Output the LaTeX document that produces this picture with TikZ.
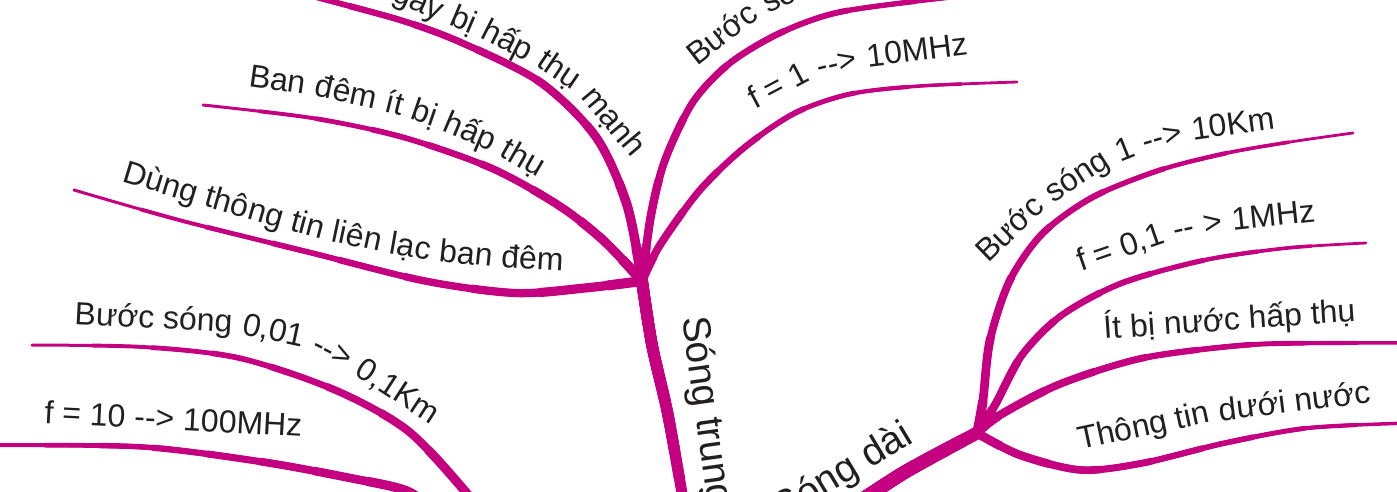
\documentclass[tikz,border=0pt]{standalone}
\usepackage{fontspec}
\setmainfont{Liberation Sans}[Ligatures=TeXOff]
\definecolor{br}{RGB}{197,0,128}
\definecolor{txt}{RGB}{35,31,32}
\newcommand\lbl{\fontsize{32}{38}\selectfont}
\newcommand\mlbl{\fontsize{39}{46}\selectfont}
\tikzset{
  brline/.style={draw=br,line cap=round,line join=round},
  lnode/.style={font=\lbl,text=txt,inner sep=0pt},
  wd/.style={lnode,anchor=base west},
  mainlab/.style={font=\mlbl,text=txt,inner sep=0pt},
}
% tapered branch: #1 width at start, #2 width at free end, #3 approx length, #4 path
\newcommand\brch[4]{%
  \draw[brline,line width=#2pt] #4;
  \foreach \k in {1,...,8}{%
    \pgfmathsetmacro\ww{#2+(#1-#2)*\k/8}%
    \pgfmathsetmacro\dl{#3*(1-\k/8.5)}%
    \draw[brline,line width=\ww pt,dash pattern=on \dl pt off 6000pt] #4;}}
% next word of a label: #1 name, #2 previous word, #3 angle, #4 text
\newcommand\nx[4]{\node[wd,rotate=#3] (#1) at ([shift={(#3:8.9pt)}]#2.base east) {#4};}
\begin{document}
\begin{tikzpicture}[x=1pt,y=-1pt]
\useasboundingbox (0,0) rectangle (1397,491);
\clip (0,0) rectangle (1397,491);
% hubs and free ends
\coordinate (hA) at (642,281);
\coordinate (hB) at (977,433);
\coordinate (tA) at (684,505);
\coordinate (e1) at (220,-30);
\coordinate (e2) at (203,105);
\coordinate (e3) at (74,190);
\coordinate (e4) at (1050,-12);
\coordinate (e5) at (1017,82);
\coordinate (s6) at (485,520);
\coordinate (e6) at (32,345);
\coordinate (s7) at (440,515);
\coordinate (e7) at (-10,445);
\coordinate (sB) at (850,508);
\coordinate (e8) at (1353,133);
\coordinate (e9) at (1366,243);
\coordinate (e10) at (1410,343);
\coordinate (e11) at (1410,423);
% branches
\brch{12}{11}{228}{plot[smooth] coordinates {(hA) (652,345) (668,415) (tA)}}
\brch{10}{5}{571}{plot[smooth] coordinates {(hA) (627,205) (596,137) (540,82) (460,42) (400,20) (312,-4) (e1)}}
\brch{10}{3}{487}{plot[smooth] coordinates {(hA) (603,240) (558,205) (491,168) (402,137) (312,118) (e2)}}
\brch{10}{3}{580}{plot[smooth] coordinates {(hA) (585,288) (515,293) (425,281) (312,253) (179,220) (e3)}}
\brch{9}{4}{575}{plot[smooth] coordinates {(hA) (651,215) (665,160) (693,102) (730,63) (780,33) (840,12) (945,-2) (e4)}}
\brch{8.5}{2.8}{455}{plot[smooth] coordinates {(hA) (660,245) (700,190) (745,147) (795,113) (850,94) (920,86) (e5)}}
\brch{10}{3}{511}{plot[smooth] coordinates {(s6) (464,490) (407,430) (335,390) (239,358) (143,347) (e6)}}
\brch{10}{4}{461}{plot[smooth] coordinates {(s7) (407,491) (350,478) (263,462) (143,447) (0,445) (e7)}}
\brch{14}{13}{148}{plot[smooth] coordinates {(sB) (905,472) (hB)}}
\brch{9.5}{2.8}{545}{plot[smooth] coordinates {(hB) (983,400) (990,340) (1010,280) (1043,233) (1093,197) (1160,170) (1227,153) (1290,142) (e8)}}
\brch{9}{2.8}{463}{plot[smooth] coordinates {(hB) (995,405) (1022,355) (1062,315) (1122,283) (1205,260) (1287,248) (e9)}}
\brch{9}{3.5}{452}{plot[smooth] coordinates {(hB) (1000,415) (1060,384) (1143,358) (1246,345) (1330,343) (e10)}}
\brch{9}{3.5}{443}{plot[smooth] coordinates {(hB) (1020,455) (1081,470) (1143,463) (1225,443) (1308,428) (e11)}}
% labels
\node[wd,rotate=-20] (t1a) at (317,-28) {Ban};
\node[wd,rotate=-24] (t1b) at (375,-7) {ngày};
\node[wd,rotate=-23] (t1c) at (448,24) {bị};
\node[wd,rotate=-27] (t1d) at (479,37) {hấp};
\node[wd,rotate=-34] (t1e) at (535,65) {thụ};
\node[wd,rotate=-50] (t1f) at (580,97) {mạnh};
\node[wd,rotate=-8] (t2a) at (248,86) {Ban};
\nx{t2b}{t2a}{-12}{đêm}
\nx{t2c}{t2b}{-14}{ít}
\nx{t2d}{t2c}{-19}{bị}
\nx{t2e}{t2d}{-23}{hấp}
\nx{t2f}{t2e}{-30}{thụ}
\node[wd,rotate=-17] (t3a) at (121,181) {Dùng};
\nx{t3b}{t3a}{-16}{thông}
\nx{t3c}{t3b}{-15}{tin}
\nx{t3d}{t3c}{-12}{liên}
\nx{t3e}{t3d}{-10}{lạc}
\nx{t3f}{t3e}{-6}{ban}
\nx{t3g}{t3f}{-3}{đêm}
\node[wd,rotate=38] (t4a) at (697,67) {Bước};
\nx{t4b}{t4a}{25}{sóng 0,1 --> 1Km}
\node[wd,rotate=28] (t5a) at (755,110) {f = 1};
\nx{t5b}{t5a}{14}{-->}
\nx{t5c}{t5b}{7}{10MHz}
\node[wd,rotate=-3] (t6a) at (74,324) {Bước sóng};
\nx{t6b}{t6a}{-12}{0,01}
\nx{t6c}{t6b}{-27}{-->}
\nx{t6d}{t6c}{-33}{0,1Km}
\node[wd,rotate=-3] (t7) at (44,423) {f = 10 --> 100MHz};
\node[wd,rotate=44] (t10a) at (988,264) {Bước};
\nx{t10b}{t10a}{33}{sóng}
\nx{t10c}{t10b}{22}{1}
\nx{t10d}{t10c}{16}{-->}
\nx{t10e}{t10d}{8}{10Km}
\node[wd,rotate=19] (t11a) at (1081,272) {f = 0,1};
\nx{t11b}{t11a}{12}{--}
\nx{t11c}{t11b}{10}{>}
\nx{t11d}{t11c}{6}{1MHz}
\node[wd,rotate=4] (t12) at (1104,339) {Ít bị nước hấp thụ};
\node[wd,rotate=12] (t13a) at (1080,450) {Thông tin};
\nx{t13b}{t13a}{7}{dưới nước}
\node[mainlab,anchor=base west,rotate=-82] (st) at (682,318) {Sóng trung};
\node[mainlab,anchor=base east,rotate=31] (sd) at (915,442) {Sóng dài};
\end{tikzpicture}
\end{document}
